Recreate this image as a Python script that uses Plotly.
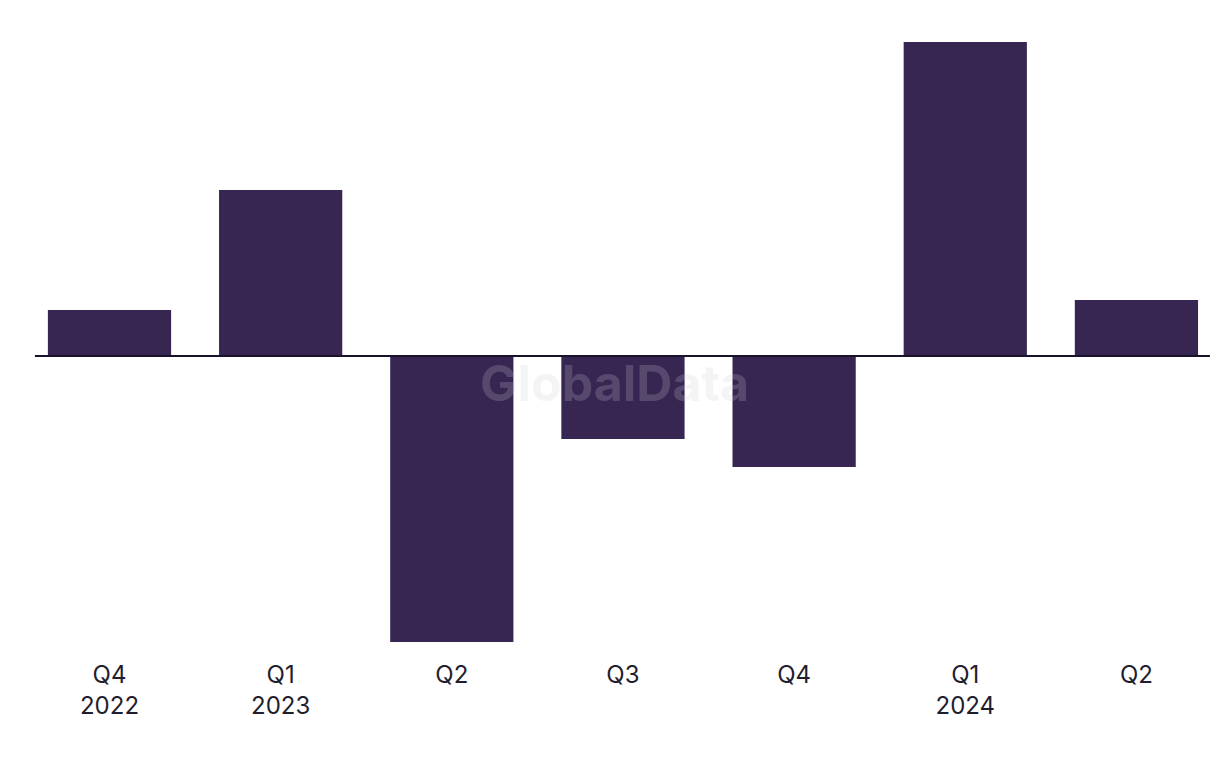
import plotly.graph_objects as go

quarters = ["Q4<br>2022", "Q1<br>2023", "Q2", "Q3", "Q4", "Q1<br>2024", "Q2"]
keys = ["2022Q4", "2023Q1", "2023Q2", "2023Q3", "2023Q4", "2024Q1", "2024Q2"]
change = [4.6, 16.6, -28.6, -8.3, -11.1, 31.4, 5.6]

BAR = "#372552"
TEXT = "#1f1d2e"

fig = go.Figure()

fig.add_trace(go.Bar(
    x=keys,
    y=change,
    width=0.72,
    marker=dict(color=BAR, line=dict(width=0)),
    hoverinfo="skip",
))

# Zero baseline drawn across the plot
fig.add_shape(
    type="line", xref="paper", yref="y",
    x0=0.0221, x1=0.9852, y0=0, y1=0,
    line=dict(color="#16132a", width=2),
)

# Watermark
fig.add_annotation(
    text="<b>GlobalData</b>", xref="paper", yref="paper",
    x=0.5, y=(768 - 118 - 375) / (768 - 12 - 118),
    xshift=-4,
    showarrow=False,
    font=dict(family="Inter, Roboto, sans-serif", size=50,
              color="rgba(205,205,210,0.22)"),
)

fig.update_layout(
    width=1220, height=768,
    margin=dict(l=0, r=0, t=12, b=118),
    paper_bgcolor="white",
    plot_bgcolor="white",
    showlegend=False,
    font=dict(family="Inter, Roboto, sans-serif", size=24, color=TEXT),
)

fig.update_xaxes(
    type="category",
    tickvals=keys,
    ticktext=quarters,
    range=[-0.593, 6.535],
    showgrid=False,
    zeroline=False,
    showline=False,
    ticks="",
    tickfont=dict(size=24, color=TEXT),
)

fig.update_yaxes(
    range=[-30.2, 33.6],
    showgrid=False,
    zeroline=False,
    showline=False,
    showticklabels=False,
    ticks="",
)

fig.write_html("out.html")
